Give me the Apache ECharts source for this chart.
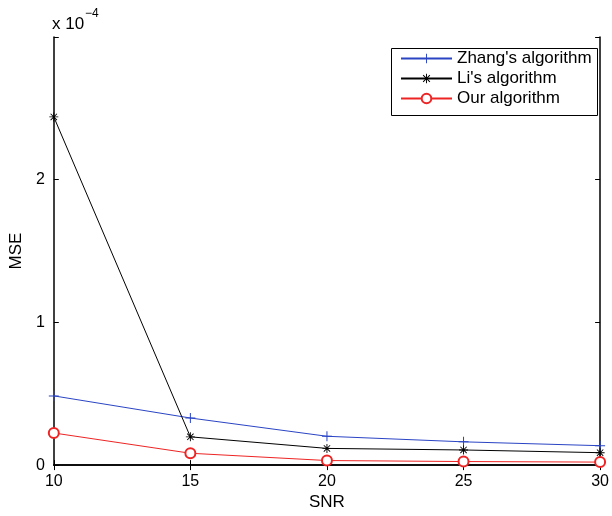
<!DOCTYPE html>
<html><head><meta charset="utf-8">
<script src="https://cdn.jsdelivr.net/npm/echarts@6/dist/echarts.min.js"></script>
<style>html,body{margin:0;padding:0;background:#fff;overflow:hidden}#c{position:absolute;left:0;top:0;width:612px;height:516px}</style>
</head><body><div id="c"></div>
<script>
// Data (MSE in units of 1e-4)
const snr = [10, 15, 20, 25, 30];
const zhang = [0.485, 0.33, 0.202, 0.163, 0.136];
const li = [2.44, 0.198, 0.117, 0.106, 0.087];
const ours = [0.225, 0.083, 0.032, 0.025, 0.021];
const seriesNames = ["Zhang's algorithm", "Li's algorithm", "Our algorithm"];
const yTickLabels = ["0", "1", "2"];
const xTitle = "SNR";
const yTitle = "MSE";

const FONT = "Liberation Sans, Arial, Helvetica, sans-serif";
const BLUE = "#2a44c4", RED = "#ee2424", BLACK = "#000";

const plusPath = "path://M-0.1,-1L0.1,-1L0.1,1L-0.1,1ZM-1,-0.1L1,-0.1L1,0.1L-1,0.1Z";
const starPath = "path://M-0.1,-1L0.1,-1L0.1,1L-0.1,1ZM-1,-0.1L1,-0.1L1,0.1L-1,0.1Z" +
  "M-0.636,-0.778L0.778,0.636L0.636,0.778L-0.778,-0.636Z" +
  "M-0.778,0.636L0.636,-0.778L0.778,-0.636L-0.636,0.778Z";

function pairs(ys) { return snr.map((x, i) => [x, ys[i]]); }

const axisCommon = {
  type: 'value',
  axisLine: { show: true, lineStyle: { color: '#000', width: 1.5 } },
  axisTick: { show: true, inside: true, length: 5, lineStyle: { color: '#000', width: 1 } },
  splitLine: { show: false }
};

const chart = echarts.init(document.getElementById('c'), null, { renderer: 'canvas' });
chart.setOption({
  animation: false,
  backgroundColor: '#fff',
  textStyle: { fontFamily: FONT },
  grid: { left: 52, right: 9, top: 37, bottom: 44, containLabel: false },
  xAxis: [
    Object.assign({}, axisCommon, {
      min: 10, max: 30, interval: 5, position: 'bottom',
      axisLabel: { color: '#000', fontSize: 16, margin: 8, fontFamily: FONT },
      name: xTitle, nameLocation: 'middle', nameGap: 25,
      nameTextStyle: { color: '#000', fontSize: 17, fontFamily: FONT }
    }),
    Object.assign({}, axisCommon, {
      min: 10, max: 30, interval: 5, position: 'top',
      axisLabel: { show: false }
    })
  ],
  yAxis: [
    Object.assign({}, axisCommon, {
      min: 0, max: 3, interval: 1, position: 'left',
      axisLabel: { color: '#000', fontSize: 16, margin: 9, fontFamily: FONT,
        formatter: v => (v < yTickLabels.length ? yTickLabels[v] : '') },
      name: yTitle, nameLocation: 'middle', nameGap: 26, nameRotate: 90,
      nameTextStyle: { color: '#000', fontSize: 17, fontFamily: FONT }
    }),
    Object.assign({}, axisCommon, {
      min: 0, max: 3, interval: 1, position: 'right',
      axisLabel: { show: false }
    })
  ],
  legend: {
    show: true, orient: 'vertical', left: 400, top: 50,
    padding: 0, itemWidth: 51, itemHeight: 12, itemGap: 3,
    textStyle: { color: '#000', fontSize: 17, lineHeight: 17, fontFamily: FONT },
    data: seriesNames
  },
  graphic: [
    { type: 'rect', left: 389, top: 46, shape: { width: 206, height: 67 },
      style: { fill: 'none', stroke: '#000', lineWidth: 1 }, z: 1 },
    { type: 'text', left: 52, top: 16, style: { text: 'x 10', font: '17px ' + FONT, fill: '#000' } },
    { type: 'text', left: 85, top: 8, style: { text: '\u22124', font: '12px ' + FONT, fill: '#000' } }
  ],
  series: [
    { name: seriesNames[0], type: 'line', data: pairs(zhang), symbol: plusPath, symbolSize: 10,
      lineStyle: { color: BLUE, width: 1 }, itemStyle: { color: BLUE }, clip: false },
    { name: seriesNames[1], type: 'line', data: pairs(li), symbol: starPath, symbolSize: 9,
      lineStyle: { color: BLACK, width: 1 }, itemStyle: { color: BLACK }, clip: false },
    { name: seriesNames[2], type: 'line', data: pairs(ours), symbol: 'emptyCircle', symbolSize: 10,
      lineStyle: { color: RED, width: 1 }, itemStyle: { color: RED, borderColor: RED, borderWidth: 1 }, clip: false }
  ]
});
</script></body></html>
